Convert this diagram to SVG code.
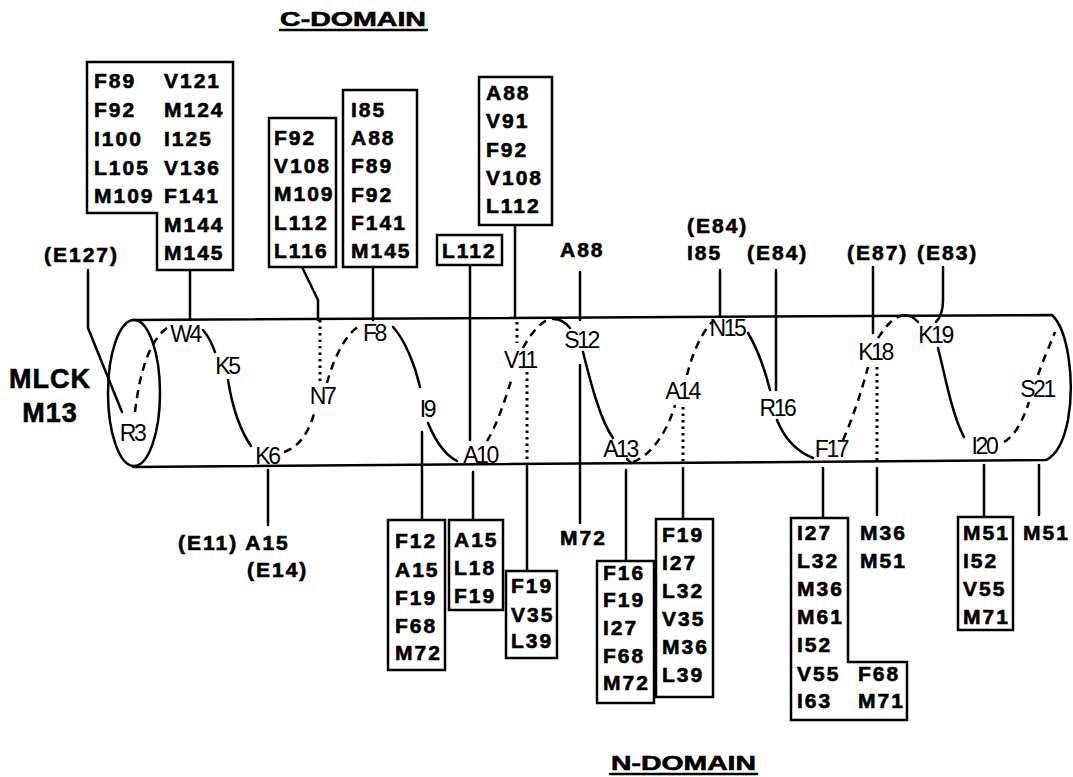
<svg xmlns="http://www.w3.org/2000/svg" width="1073" height="777" viewBox="0 0 1073 777">
<style>
.res{font-family:"Liberation Sans",Arial,sans-serif;font-weight:bold;font-size:21px;letter-spacing:2px;fill:#000;stroke:#000;stroke-width:0.6}
.hx{font-family:"Liberation Sans",Arial,sans-serif;font-size:23px;letter-spacing:-2.4px;text-anchor:middle;fill:#000}
.ttl{font-family:"Liberation Sans",Arial,sans-serif;font-weight:bold;font-size:21px;fill:#000;stroke:#000;stroke-width:0.6}
.big{font-family:"Liberation Sans",Arial,sans-serif;font-weight:bold;font-size:27px;letter-spacing:1px;text-anchor:middle;fill:#000;stroke:#000;stroke-width:0.6}
.ln{stroke:#000;stroke-width:2.5;fill:none;stroke-linecap:round;stroke-linejoin:round}
.box{stroke:#000;stroke-width:2.5;fill:#fff}
.dash{stroke-dasharray:8 6;stroke-linecap:butt}
.dot{stroke-dasharray:2.5 4;stroke-linecap:butt;stroke-width:3}
</style>
<rect width="1073" height="777" fill="#fff"/>

<g id="titles">
<text class="ttl" x="280" y="26" textLength="146" lengthAdjust="spacingAndGlyphs">C-DOMAIN</text>
<line class="ln" x1="280" y1="30" x2="427" y2="30" stroke-width="2"/>
<text class="ttl" x="611" y="770" font-size="23" textLength="145" lengthAdjust="spacingAndGlyphs">N-DOMAIN</text>
<line class="ln" x1="610" y1="774" x2="757" y2="774" stroke-width="2"/>
<text class="big" x="50" y="388">MLCK</text>
<text class="big" x="50" y="422">M13</text>
</g>

<g id="cylinder">
<ellipse class="ln" cx="134" cy="393" rx="26" ry="73"/>
<path class="ln" d="M133,320 L1052,315 C1068,330 1075,380 1068,420 C1064,440 1057,455 1046,460 L133,467"/>
</g>

<g id="helix">
<path class="ln dash" d="M135,412 C140,370 150,340 167,328"/>
<path class="ln" d="M203,330 Q210,338 215,352"/>
<path class="ln" d="M228,380 C232,405 240,430 251,446"/>
<path class="ln dash" d="M284,452 C300,447 310,430 315,410"/>
<path class="ln dash" d="M327,383 C333,360 345,335 358,327"/>
<path class="ln" d="M393,327 C405,340 415,365 420,387"/>
<path class="ln" d="M428,423 C435,440 445,455 457,461"/>
<path class="ln dash" d="M487,441 C497,425 505,400 512,378"/>
<path class="ln dash" d="M523,348 C530,335 538,325 547,320"/>
<path class="ln" d="M553,319 Q563,319 570,328"/>
<path class="ln" d="M583,352 C590,380 600,420 613,438"/>
<path class="ln" d="M627,459 L631,463"/>
<path class="ln dash" d="M633,462 C652,455 668,430 675,405"/>
<path class="ln dash" d="M687,375 C692,355 700,335 712,322"/>
<path class="ln" d="M748,333 C758,350 765,370 770,390"/>
<path class="ln" d="M777,420 C785,440 798,452 813,458"/>
<path class="ln dash" d="M843,440 C852,420 862,390 868,367"/>
<path class="ln dash" d="M878,338 C885,328 890,320 900,316"/>
<path class="ln" d="M900,316 Q910,313 918,322"/>
<path class="ln" d="M938,348 C945,375 952,415 964,437"/>
<path class="ln dash" d="M1004,442 C1015,436 1023,420 1029,402"/>
<path class="ln dash" d="M1038,375 C1043,360 1050,345 1055,332"/>
</g>

<g id="helix-labels">
<text class="hx" x="132" y="441">R3</text>
<text class="hx" x="185" y="342">W4</text>
<text class="hx" x="227" y="374">K5</text>
<text class="hx" x="267" y="464">K6</text>
<text class="hx" x="322" y="404">N7</text>
<text class="hx" x="374" y="341">F8</text>
<text class="hx" x="427" y="417">I9</text>
<text class="hx" x="480" y="463">A10</text>
<text class="hx" x="520" y="368">V11</text>
<text class="hx" x="581" y="348">S12</text>
<text class="hx" x="620" y="457">A13</text>
<text class="hx" x="682" y="399">A14</text>
<text class="hx" x="727" y="336">N15</text>
<text class="hx" x="777" y="416">R16</text>
<text class="hx" x="831" y="457">F17</text>
<text class="hx" x="875" y="360">K18</text>
<text class="hx" x="935" y="343">K19</text>
<text class="hx" x="984" y="454">I20</text>
<text class="hx" x="1037" y="397">S21</text>
</g>

<g id="connectors">
<path class="ln" d="M88,270 V328 L122,412"/>
<path class="ln" d="M190,270 V320"/>
<path class="ln" d="M302,267 L318,300 V320"/>
<path class="ln dot" d="M320,320 V384"/>
<path class="ln" d="M373,267 V320"/>
<path class="ln" d="M470,265 V440"/>
<path class="ln" d="M515,225 V318"/>
<path class="ln dot" d="M517,322 V343"/>
<path class="ln" d="M580,272 V320"/>
<path class="ln" d="M580,365 V523"/>
<path class="ln" d="M720,270 V316"/>
<path class="ln" d="M776,270 V390"/>
<path class="ln" d="M873,267 V333"/>
<path class="ln" d="M943,267 V300 Q943,315 936,322"/>
<path class="ln dot" d="M877,367 V462"/>
<path class="ln" d="M877,468 V515"/>
<path class="ln" d="M268,470 V525"/>
<path class="ln" d="M422,432 V520"/>
<path class="ln" d="M473,472 V520"/>
<path class="ln dot" d="M527,372 V462"/>
<path class="ln" d="M527,466 V571"/>
<path class="ln" d="M626,470 V561"/>
<path class="ln dot" d="M683,407 V462"/>
<path class="ln" d="M683,468 V519"/>
<path class="ln" d="M823,468 V518"/>
<path class="ln" d="M984,465 V517"/>
<path class="ln" d="M1039,465 V515"/>
</g>

<g id="box-c1">
<path class="box" d="M87,62 H233 V270 H157 V213 H87 Z"/>
<text class="res" x="94" y="88">F89</text>
<text class="res" x="94" y="117">F92</text>
<text class="res" x="94" y="146">I100</text>
<text class="res" x="94" y="175">L105</text>
<text class="res" x="94" y="203">M109</text>
<text class="res" x="164" y="88">V121</text>
<text class="res" x="164" y="117">M124</text>
<text class="res" x="164" y="146">I125</text>
<text class="res" x="164" y="175">V136</text>
<text class="res" x="164" y="203">F141</text>
<text class="res" x="164" y="232">M144</text>
<text class="res" x="164" y="260">M145</text>
</g>

<g id="box-c2">
<rect class="box" x="269" y="118" width="67" height="149"/>
<text class="res" x="274" y="145">F92</text>
<text class="res" x="274" y="173">V108</text>
<text class="res" x="274" y="201">M109</text>
<text class="res" x="274" y="230">L112</text>
<text class="res" x="274" y="258">L116</text>
</g>

<g id="box-c3">
<rect class="box" x="343" y="90" width="74" height="177"/>
<text class="res" x="351" y="117">I85</text>
<text class="res" x="351" y="145">A88</text>
<text class="res" x="351" y="173">F89</text>
<text class="res" x="351" y="202">F92</text>
<text class="res" x="351" y="230">F141</text>
<text class="res" x="351" y="258">M145</text>
</g>

<g id="box-c4">
<rect class="box" x="437" y="235" width="65" height="30"/>
<text class="res" x="442" y="258">L112</text>
</g>

<g id="box-c5">
<rect class="box" x="479" y="77" width="73" height="148"/>
<text class="res" x="486" y="100">A88</text>
<text class="res" x="486" y="128">V91</text>
<text class="res" x="486" y="157">F92</text>
<text class="res" x="486" y="185">V108</text>
<text class="res" x="486" y="213">L112</text>
</g>

<g id="labels-top">
<text class="res" x="44" y="262">(E127)</text>
<text class="res" x="560" y="257">A88</text>
<text class="res" x="687" y="233">(E84)</text>
<text class="res" x="687" y="260">I85</text>
<text class="res" x="747" y="260">(E84)</text>
<text class="res" x="847" y="260">(E87)</text>
<text class="res" x="917" y="260">(E83)</text>
</g>

<g id="labels-bottom">
<text class="res" x="178" y="550">(E11) A15</text>
<text class="res" x="247" y="577">(E14)</text>
<text class="res" x="560" y="545">M72</text>
<text class="res" x="860" y="540">M36</text>
<text class="res" x="860" y="568">M51</text>
<text class="res" x="1023" y="540">M51</text>
</g>

<g id="box-n1">
<rect class="box" x="388" y="520" width="57" height="150"/>
<text class="res" x="395" y="548">F12</text>
<text class="res" x="395" y="577">A15</text>
<text class="res" x="395" y="605">F19</text>
<text class="res" x="395" y="633">F68</text>
<text class="res" x="395" y="660">M72</text>
</g>

<g id="box-n2">
<rect class="box" x="449" y="520" width="54" height="90"/>
<text class="res" x="454" y="547">A15</text>
<text class="res" x="454" y="575">L18</text>
<text class="res" x="454" y="603">F19</text>
</g>

<g id="box-n3">
<rect class="box" x="506" y="571" width="51" height="87"/>
<text class="res" x="511" y="593">F19</text>
<text class="res" x="511" y="622">V35</text>
<text class="res" x="511" y="648">L39</text>
</g>

<g id="box-n4">
<rect class="box" x="597" y="561" width="57" height="142"/>
<text class="res" x="603" y="580">F16</text>
<text class="res" x="603" y="607">F19</text>
<text class="res" x="603" y="635">I27</text>
<text class="res" x="603" y="663">F68</text>
<text class="res" x="603" y="690">M72</text>
</g>

<g id="box-n5">
<rect class="box" x="656" y="519" width="57" height="178"/>
<text class="res" x="662" y="542">F19</text>
<text class="res" x="662" y="570">I27</text>
<text class="res" x="662" y="598">L32</text>
<text class="res" x="662" y="626">V35</text>
<text class="res" x="662" y="654">M36</text>
<text class="res" x="662" y="682">L39</text>
</g>

<g id="box-n6">
<path class="box" d="M791,518 H848 V662 H907 V720 H791 Z"/>
<text class="res" x="797" y="540">I27</text>
<text class="res" x="797" y="568">L32</text>
<text class="res" x="797" y="596">M36</text>
<text class="res" x="797" y="624">M61</text>
<text class="res" x="797" y="652">I52</text>
<text class="res" x="797" y="681">V55</text>
<text class="res" x="797" y="708">I63</text>
<text class="res" x="858" y="681">F68</text>
<text class="res" x="858" y="708">M71</text>
</g>

<g id="box-n7">
<rect class="box" x="958" y="517" width="55" height="113"/>
<text class="res" x="963" y="540">M51</text>
<text class="res" x="963" y="568">I52</text>
<text class="res" x="963" y="596">V55</text>
<text class="res" x="963" y="624">M71</text>
</g>
</svg>
